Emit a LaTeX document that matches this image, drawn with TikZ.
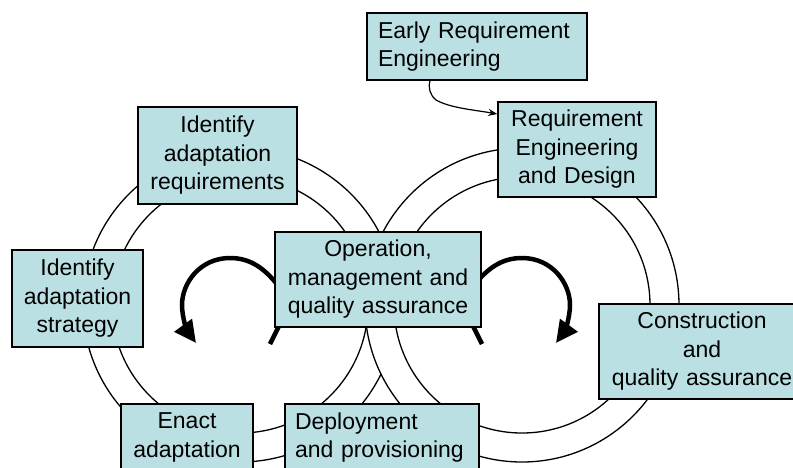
\documentclass[tikz,border=0pt]{standalone}
\usepackage{fontspec}
\setmainfont{Liberation Sans}
\usetikzlibrary{arrows.meta}
\definecolor{boxfill}{RGB}{187,224,227}
\begin{document}
\begin{tikzpicture}[x=1pt,y=-1pt,
  box/.style={draw=black, line width=1.4pt, fill=boxfill, inner sep=0pt,
              font=\fontsize{23}{28.5}\selectfont, align=center},
  ring/.style={draw=black, line width=1.3pt},
  cyc/.style={line width=4.5pt, -{Triangle[length=22pt,width=21pt]}},
  thin arrow/.style={line width=1.2pt, -{Stealth[length=9pt,width=7pt]}}
  ]
\useasboundingbox (0,0) rectangle (793,467);
\clip (0,0) rectangle (793,467);
% left double ring
\fill[white,even odd rule] (240,305) circle[radius=157pt] (240,305) circle[radius=128pt];
\draw[ring] (240,305) circle[radius=157pt] (240,305) circle[radius=128pt];
% right double ring (on top)
\fill[white,even odd rule] (522,305) circle[radius=157pt] (522,305) circle[radius=128pt];
\draw[ring] (522,305) circle[radius=157pt] (522,305) circle[radius=128pt];
% cycle arrows
\draw[cyc] (270,344) -- (279,326) .. controls (286,310) and (285,295) .. (276,283)
  .. controls (262,266) and (248,258) .. (230,258)
  .. controls (200,258) and (182,283) .. (182,305)
  .. controls (182,318) and (188,332) .. (196,343);
\draw[cyc] (482,344) -- (473,326) .. controls (466,310) and (467,295) .. (476,283)
  .. controls (490,266) and (504,258) .. (522,258)
  .. controls (552,258) and (570,283) .. (570,305)
  .. controls (570,318) and (564,332) .. (556,343);
% boxes
\node[box, minimum width=220pt, minimum height=67pt, text width=198pt, align=left] (early) at (477,46.5) {Early Requirement\\Engineering};
\node[box, minimum width=158pt, minimum height=95pt, text width=154pt] (reqeng) at (577,149.5) {Requirement\\Engineering\\and Design};
\node[box, minimum width=159pt, minimum height=97pt, text width=155pt] (idreq) at (217.5,155.5) {Identify\\adaptation\\requirements};
\node[box, minimum width=131pt, minimum height=97pt, text width=127pt] (idstrat) at (77.5,298.5) {Identify\\adaptation\\strategy};
\node[box, minimum width=206pt, minimum height=95pt, text width=202pt] (oper) at (378,279.5) {Operation,\\management and\\quality assurance};
\node[box, minimum width=206pt, minimum height=95pt, text width=202pt] (constr) at (702,351.5) {Construction\\and\\quality assurance};
\node[box, minimum width=132pt, minimum height=67pt, text width=128pt] (enact) at (187,437.5) {Enact\\adaptation};
\node[box, minimum width=194pt, minimum height=67pt, text width=174pt, align=left] (deploy) at (382,437.5) {Deployment\\and provisioning};
% early requirement arrow
\draw[thin arrow] ([xshift=-47pt]early.south) .. controls (428,88) and (430,95) .. (436,100)
  .. controls (450,108) and (475,110) .. ([yshift=35.5pt]reqeng.west);
\end{tikzpicture}
\end{document}
